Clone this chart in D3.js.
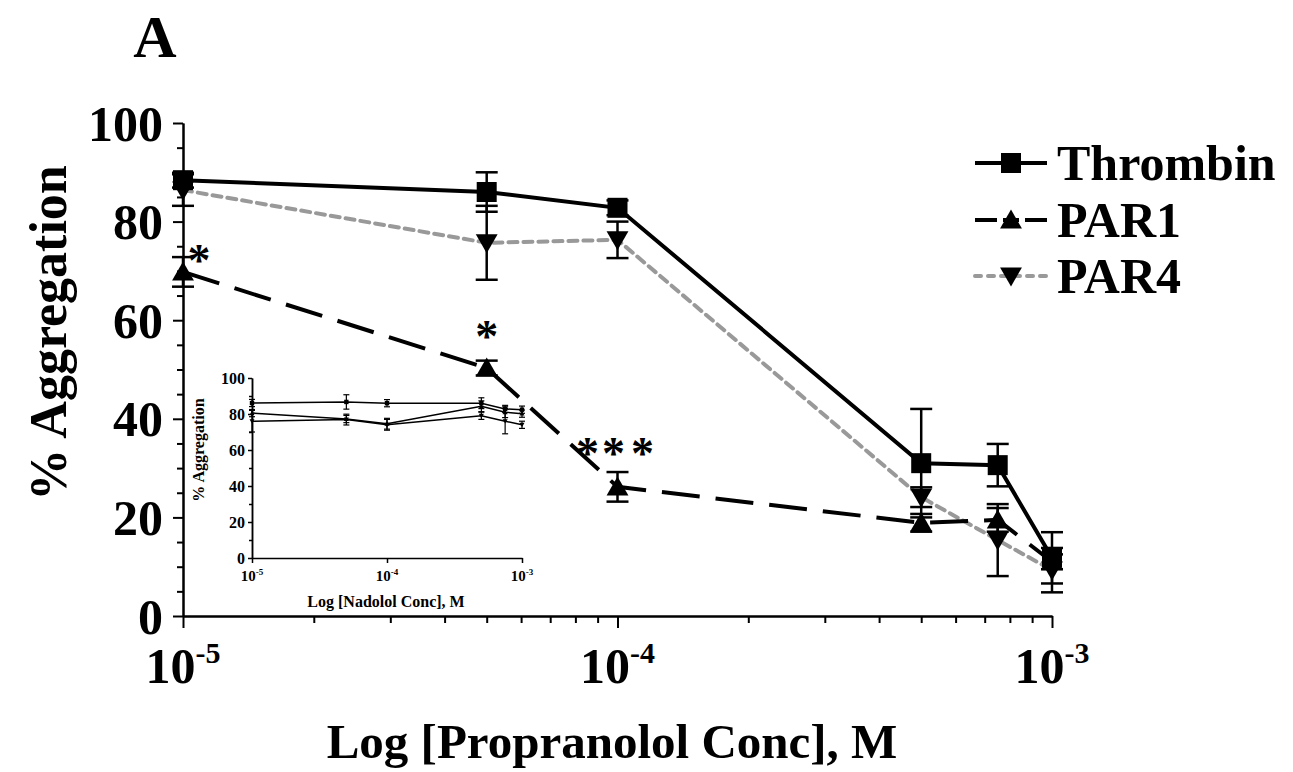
<!DOCTYPE html>
<html>
<head>
<meta charset="utf-8">
<script src="https://cdn.jsdelivr.net/npm/d3@7/dist/d3.min.js"></script>
<style>
  html, body { margin: 0; padding: 0; background: #fff; }
  svg { display: block; }
  text { font-family: "Liberation Serif", "Times New Roman", serif; font-weight: bold; fill: #000; }
</style>
</head>
<body>
<svg id="chart" width="1293" height="772"></svg>
<script>
// ---------------- data ----------------
const concentrations = [1e-5, 5e-5, 1e-4, 5e-4, 7.5e-4, 1e-3];

const seriesNames = ["Thrombin", "PAR1", "PAR4"];
const thrombinValues = [88.4, 86.0, 82.8, 31.0, 30.6, 11.8];
const thrombinErrors = [1.5, 4.0, 1.5, 11.0, 4.3, 5.2];
const par1Values = [69.8, 50.3, 26.2, 18.9, 19.5, 11.0];
const par1Errors = [3.0, 1.5, 3.0, 1.8, 2.4, 1.5];
const par4Values = [86.4, 75.7, 76.3, 24.1, 15.4, 9.3];
const par4Errors = [3.2, 7.5, 3.7, 2.0, 7.3, 4.5];

// significance marks: [series name, concentration index, label, x-offset in px]
const significance = [
  ["PAR1", 0, "*", 16],
  ["PAR1", 1, "*", 0],
  ["PAR1", 2, "*", -30],
  ["PAR1", 2, "*", -4],
  ["PAR1", 2, "*", 25]
];

const yTicks = [0, 20, 40, 60, 80, 100];
const xTickExponents = [-5, -4, -3];

// inset (Nadolol)
const insetValuesA = [86.1, 86.7, 86.0, 86.0, 82.8, 82.4];
const insetErrorsA = [2, 4, 2, 3, 2, 2];
const insetValuesB = [80.5, 77.2, 74.6, 84.3, 81.0, 80.2];
const insetErrorsB = [2, 2, 3, 3, 3, 2];
const insetValuesC = [76.0, 76.9, 74.0, 79.0, 76.0, 74.0];
const insetErrorsC = [6, 3, 3, 2, 7, 2];

// ---------------- chart ----------------
const svg = d3.select("#chart");

const x = d3.scaleLog().domain([1e-5, 1e-3]).range([183, 1052]);
const y = d3.scaleLinear().domain([0, 100]).range([616, 123]);

const series = [
  { name: seriesNames[0], values: thrombinValues, errors: thrombinErrors, color: "#000", dash: null, width: 4, marker: "square" },
  { name: seriesNames[1], values: par1Values, errors: par1Errors, color: "#000", dash: "38,16", width: 4, marker: "up" },
  { name: seriesNames[2], values: par4Values, errors: par4Errors, color: "#999", dash: "9,6", width: 4, marker: "down" }
];

// title
svg.append("text").attr("x", 155).attr("y", 57).attr("text-anchor", "middle")
  .style("font-size", "60px").text("A");

// axes
const yMajor = d3.axisLeft(y).tickValues(yTicks).tickSize(10).tickSizeOuter(0).tickPadding(10);
const yMinor = d3.axisLeft(y).tickValues(d3.range(0, 101, 5).filter(v => v % 20 !== 0)).tickSize(6).tickFormat("").tickSizeOuter(0);
const gy = svg.append("g").attr("transform", `translate(${x(1e-5)},0)`).call(yMajor);
svg.append("g").attr("transform", `translate(${x(1e-5)},0)`).call(yMinor);
gy.selectAll("text").style("font-size", "50px").attr("dy", "0.34em");

const majorX = xTickExponents.map(e => Math.pow(10, e));
const minorX = [];
[1e-5, 1e-4].forEach(d => { for (let k = 2; k <= 9; k++) minorX.push(d * k); });
svg.append("g").attr("transform", `translate(0,${y(0)})`)
  .call(d3.axisBottom(x).tickValues(majorX).tickSize(12).tickSizeOuter(0).tickFormat(""));
svg.append("g").attr("transform", `translate(0,${y(0)})`)
  .call(d3.axisBottom(x).tickValues(minorX).tickSize(7).tickSizeOuter(0).tickFormat(""));
svg.selectAll(".domain, .tick line").attr("stroke", "#000").attr("stroke-width", 2);

xTickExponents.forEach((e, i) => {
  const t = svg.append("text").attr("x", x(majorX[i])).attr("y", 683).attr("text-anchor", "middle")
    .style("font-size", "50px");
  t.append("tspan").text("10");
  t.append("tspan").attr("dy", -20).style("font-size", "30px").text(String(e));
});

// axis labels
svg.append("text").attr("transform", "translate(66,333) rotate(-90)").attr("text-anchor", "middle")
  .style("font-size", "52px").text("% Aggregation");
svg.append("text").attr("x", 612).attr("y", 758).attr("text-anchor", "middle")
  .style("font-size", "49px").text("Log [Propranolol Conc], M");

// ---------------- inset ----------------
const ix = d3.scaleLog().domain([1e-5, 1e-3]).range([252, 522]);
const iy = d3.scaleLinear().domain([0, 100]).range([558, 378]);
const inset = svg.append("g");
const giy = inset.append("g").attr("transform", `translate(${ix(1e-5)},0)`)
  .call(d3.axisLeft(iy).tickValues(yTicks).tickSize(4).tickSizeOuter(0).tickPadding(3));
inset.append("g").attr("transform", `translate(${ix(1e-5)},0)`)
  .call(d3.axisLeft(iy).tickValues([10, 30, 50, 70, 90]).tickSize(3).tickSizeOuter(0).tickFormat(""));
giy.selectAll("text").style("font-size", "16px").attr("dy", "0.34em");
inset.append("g").attr("transform", `translate(0,${iy(0)})`)
  .call(d3.axisBottom(ix).tickValues(majorX).tickSize(5).tickSizeOuter(0).tickFormat(""));
inset.selectAll(".domain, .tick line").attr("stroke", "#000").attr("stroke-width", 1.5);
xTickExponents.forEach((e, i) => {
  const t = inset.append("text").attr("x", ix(majorX[i])).attr("y", 581).attr("text-anchor", "middle")
    .style("font-size", "15px");
  t.append("tspan").text("10");
  t.append("tspan").attr("dy", -6).style("font-size", "9px").text(String(e));
});
inset.append("text").attr("x", 386).attr("y", 607).attr("text-anchor", "middle")
  .style("font-size", "16px").text("Log [Nadolol Conc], M");
inset.append("text").attr("transform", "translate(204,450) rotate(-90)").attr("text-anchor", "middle")
  .style("font-size", "16px").text("% Aggregation");

const insetSeries = [
  { values: insetValuesA, errors: insetErrorsA, marker: "square" },
  { values: insetValuesB, errors: insetErrorsB, marker: "up" },
  { values: insetValuesC, errors: insetErrorsC, marker: "down" }
];

function markerPath(type, s) {
  if (type === "square") return `M${-s},${-s}H${s}V${s}H${-s}Z`;
  if (type === "up") return `M0,${-s * 1.1}L${s * 1.15},${s * 0.9}L${-s * 1.15},${s * 0.9}Z`;
  return `M0,${s * 1.1}L${s * 1.15},${-s * 0.9}L${-s * 1.15},${-s * 0.9}Z`;
}

insetSeries.forEach(s => {
  const pts = concentrations.map((c, i) => [c, s.values[i], s.errors[i]]);
  inset.append("path").datum(pts)
    .attr("d", d3.line().x(d => ix(d[0])).y(d => iy(d[1])))
    .attr("fill", "none").attr("stroke", "#000").attr("stroke-width", 1.5);
  pts.forEach(d => {
    const cx = ix(d[0]);
    inset.append("line").attr("x1", cx).attr("x2", cx).attr("y1", iy(d[1] - d[2])).attr("y2", iy(d[1] + d[2]))
      .attr("stroke", "#000").attr("stroke-width", 1.2);
    [d[1] - d[2], d[1] + d[2]].forEach(v => inset.append("line").attr("x1", cx - 3).attr("x2", cx + 3)
      .attr("y1", iy(v)).attr("y2", iy(v)).attr("stroke", "#000").attr("stroke-width", 1.2));
    inset.append("path").attr("d", markerPath(s.marker, 2.2)).attr("transform", `translate(${cx},${iy(d[1])})`)
      .attr("fill", "#000");
  });
});

// ---------------- main series ----------------
const drawOrder = [2, 1, 0];
drawOrder.forEach(k => {
  const s = series[k];
  const pts = concentrations.map((c, i) => [c, s.values[i], s.errors[i]]);
  svg.append("path").datum(pts)
    .attr("d", d3.line().x(d => x(d[0])).y(d => y(d[1])))
    .attr("fill", "none").attr("stroke", s.color).attr("stroke-width", s.width)
    .attr("stroke-dasharray", s.dash).attr("stroke-linecap", k === 2 ? "round" : "butt");
});
drawOrder.forEach(k => {
  const s = series[k];
  concentrations.forEach((c, i) => {
    const cx = x(c), v = s.values[i], e = s.errors[i];
    svg.append("line").attr("x1", cx).attr("x2", cx).attr("y1", y(v - e)).attr("y2", y(v + e))
      .attr("stroke", "#000").attr("stroke-width", 2.5);
    [v - e, v + e].forEach(w => svg.append("line").attr("x1", cx - 11).attr("x2", cx + 11)
      .attr("y1", y(w)).attr("y2", y(w)).attr("stroke", "#000").attr("stroke-width", 2.5));
  });
});
drawOrder.forEach(k => {
  const s = series[k];
  concentrations.forEach((c, i) => {
    svg.append("path").attr("d", markerPath(s.marker, s.marker === "square" ? 10 : 9.5))
      .attr("transform", `translate(${x(c)},${y(s.values[i])})`).attr("fill", "#000");
  });
});

// significance asterisks
significance.forEach(([name, i, label, dx]) => {
  const s = series.find(d => d.name === name);
  svg.append("text").attr("x", x(concentrations[i]) + dx).attr("y", y(s.values[i]) - 8)
    .attr("text-anchor", "middle").style("font-size", "46px").text(label)
    .attr("dy", i === 2 ? -10 : (i === 0 ? 12 : -8));
});

// ---------------- legend ----------------
const legendY = [163, 220, 276];
series.forEach((s, k) => {
  const g = svg.append("g").attr("transform", `translate(0,${legendY[k]})`);
  g.append("line").attr("x1", 975).attr("x2", 1047).attr("y1", 0).attr("y2", 0)
    .attr("stroke", s.color).attr("stroke-width", s.width)
    .attr("stroke-dasharray", k === 1 ? "22,6,16,6,22" : (k === 2 ? "6,7" : null))
    .attr("stroke-linecap", k === 2 ? "round" : "butt");
  g.append("path").attr("d", markerPath(s.marker, s.marker === "square" ? 10 : 9.5))
    .attr("transform", "translate(1011,0)").attr("fill", "#000");
  g.append("text").attr("x", 1057).attr("y", 17).style("font-size", "50px").text(s.name);
});
</script>
</body>
</html>
